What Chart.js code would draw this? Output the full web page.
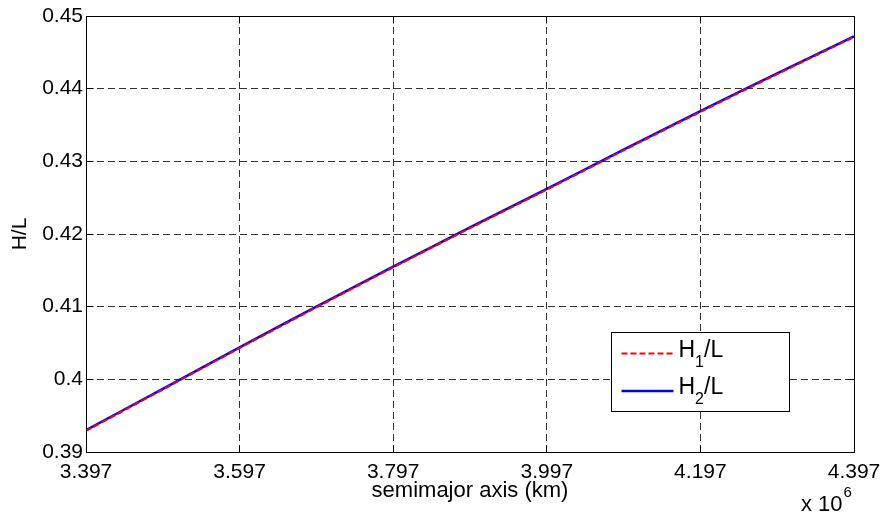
<!DOCTYPE html>
<html>
<head>
<meta charset="utf-8">
<script src="https://cdn.jsdelivr.net/npm/chart.js@4/dist/chart.umd.min.js"></script>
<style>
  body { margin: 0; background: #fff; }
  #wrap { width: 886px; height: 516px; position: relative; }
</style>
</head>
<body>
<div id="wrap"><canvas id="chart"></canvas></div>
<script>
// semimajor axis in units of 10^6 km
const semimajorAxis = [3.397, 3.497, 3.597, 3.697, 3.797, 3.897, 3.997, 4.097, 4.197, 4.297, 4.397];
const h1OverL = [0.3929, 0.3986, 0.4043, 0.4099, 0.4154, 0.4208, 0.4261, 0.4315, 0.4368, 0.4420, 0.4471];
const h2OverL = [0.3930, 0.3987, 0.4044, 0.4100, 0.4155, 0.4209, 0.4262, 0.4316, 0.4369, 0.4421, 0.4472];
const xTicks = [3.397, 3.597, 3.797, 3.997, 4.197, 4.397];
const yTicks = [0.39, 0.40, 0.41, 0.42, 0.43, 0.44, 0.45];

const FONT = "'Liberation Sans', Arial, sans-serif";

function toPoints(ys) {
    return semimajorAxis.map((x, i) => ({ x: x, y: ys[i] }));
}

// same rounding Chart.js uses for 1px grid lines
function align(p) {
    return Math.round(p - 0.5) + 0.5;
}

// box around the plot, inward ticks, legend and the "x 10^6" multiplier
const matlabLook = {
    id: 'matlabLook',
    afterDraw(chart) {
        const ctx = chart.ctx;
        const xs = chart.scales.x, ys = chart.scales.y;
        const left = align(xs.getPixelForValue(xTicks[0]));
        const right = align(xs.getPixelForValue(xTicks[xTicks.length - 1]));
        const top = align(ys.getPixelForValue(yTicks[yTicks.length - 1]));
        const bottom = align(ys.getPixelForValue(yTicks[0]));
        ctx.save();
        ctx.strokeStyle = '#000';
        ctx.lineWidth = 1;
        ctx.setLineDash([]);
        ctx.beginPath();
        xTicks.forEach(v => {
            const px = align(xs.getPixelForValue(v));
            ctx.moveTo(px, bottom); ctx.lineTo(px, bottom - 7);
            ctx.moveTo(px, top); ctx.lineTo(px, top + 7);
        });
        yTicks.forEach(v => {
            const py = align(ys.getPixelForValue(v));
            ctx.moveTo(left, py); ctx.lineTo(left + 7, py);
            ctx.moveTo(right, py); ctx.lineTo(right - 7, py);
        });
        ctx.stroke();
        ctx.strokeRect(left, top, right - left, bottom - top);

        // legend
        const lw = 178, lh = 79;
        const lx = Math.round(right - 66 - lw) + 0.5;
        const ly = Math.round(bottom - 42 - lh) + 0.5;
        ctx.fillStyle = '#fff';
        ctx.fillRect(lx, ly, lw, lh);
        ctx.strokeRect(lx, ly, lw, lh);
        const subs = ['1', '2'];
        chart.data.datasets.forEach((ds, i) => {
            const rowY = ly + 21 + i * 37.5;
            ctx.strokeStyle = ds.borderColor;
            ctx.lineWidth = ds.borderWidth;
            ctx.setLineDash(ds.borderDash || []);
            ctx.beginPath();
            ctx.moveTo(lx + 10, rowY);
            ctx.lineTo(lx + 62, rowY);
            ctx.stroke();
            ctx.setLineDash([]);
            ctx.fillStyle = '#000';
            ctx.textBaseline = 'alphabetic';
            ctx.textAlign = 'left';
            let tx = lx + 67;
            ctx.font = '23px ' + FONT;
            ctx.fillText('H', tx, rowY + 3);
            tx += ctx.measureText('H').width;
            ctx.font = '16px ' + FONT;
            ctx.fillText(subs[i], tx, rowY + 13);
            tx += ctx.measureText(subs[i]).width;
            ctx.font = '23px ' + FONT;
            ctx.fillText('/L', tx, rowY + 3);
        });

        // axis multiplier
        ctx.fillStyle = '#000';
        ctx.font = '22px ' + FONT;
        ctx.textAlign = 'left';
        ctx.textBaseline = 'alphabetic';
        ctx.fillText('x 10', 801, 511);
        const w = ctx.measureText('x 10').width;
        ctx.font = '15px ' + FONT;
        ctx.fillText('6', 801 + w + 1, 497);
        ctx.restore();
    }
};

const ctx = document.getElementById('chart').getContext('2d');
new Chart(ctx, {
    type: 'line',
    data: {
        datasets: [
            {
                label: 'H1/L',
                data: toPoints(h1OverL),
                borderColor: '#ff0000',
                borderWidth: 2,
                borderDash: [6, 3],
                pointRadius: 0,
                tension: 0.3,
                fill: false
            },
            {
                label: 'H2/L',
                data: toPoints(h2OverL),
                borderColor: '#0000ff',
                borderWidth: 2.5,
                pointRadius: 0,
                tension: 0.3,
                fill: false
            }
        ]
    },
    options: {
        responsive: true,
        maintainAspectRatio: false,
        animation: false,
        layout: { padding: { left: 0, top: 16, right: 32, bottom: 0 } },
        plugins: {
            legend: { display: false },
            tooltip: { enabled: false }
        },
        scales: {
            x: {
                type: 'linear',
                min: 3.397,
                max: 4.397,
                afterBuildTicks: s => { s.ticks = xTicks.map(v => ({ value: v })); },
                afterFit: s => { s.height = 64; s.paddingLeft = 0; s.paddingRight = 0; },
                border: { display: false, dash: [7, 4] },
                grid: { color: '#333', lineWidth: 1, drawTicks: false },
                ticks: {
                    autoSkip: false,
                    maxRotation: 0,
                    padding: 8,
                    color: '#000',
                    font: { family: FONT, size: 21 },
                    callback: v => Number(v).toFixed(3)
                },
                title: {
                    display: true,
                    text: 'semimajor axis (km)',
                    color: '#000',
                    font: { family: FONT, size: 22 },
                    padding: { top: 0, bottom: 12 }
                }
            },
            y: {
                min: 0.39,
                max: 0.45,
                afterBuildTicks: s => { s.ticks = yTicks.map(v => ({ value: v })); },
                afterFit: s => { s.width = 86; s.paddingTop = 0; s.paddingBottom = 0; },
                border: { display: false, dash: [7, 4] },
                grid: { color: '#333', lineWidth: 1, drawTicks: false },
                ticks: {
                    padding: 3,
                    color: '#000',
                    font: { family: FONT, size: 21 },
                    callback: v => String(Number(Number(v).toFixed(2)))
                },
                title: {
                    display: true,
                    text: 'H/L',
                    color: '#000',
                    font: { family: FONT, size: 21 },
                    padding: { top: 8, bottom: 0 }
                }
            }
        }
    },
    plugins: [matlabLook]
});
</script>
</body>
</html>
